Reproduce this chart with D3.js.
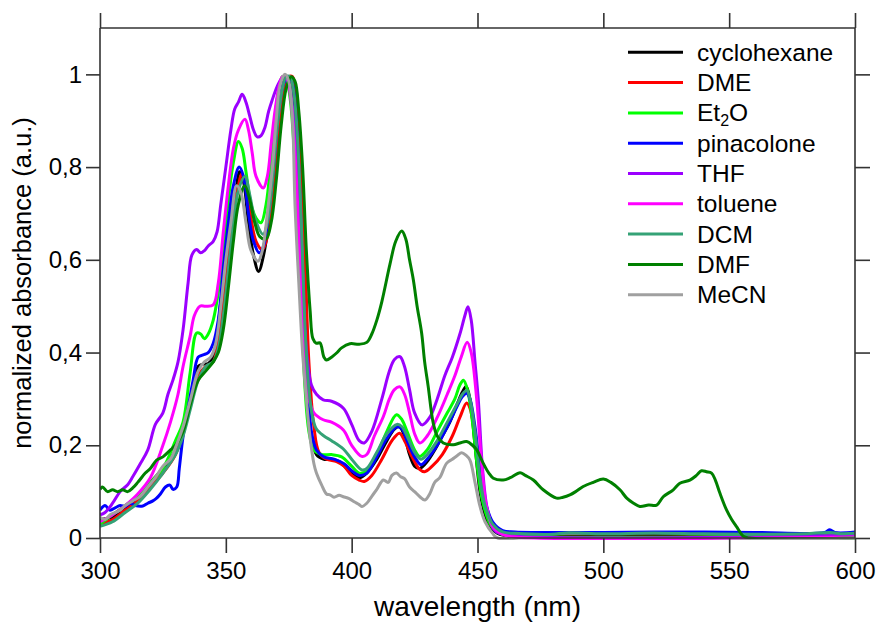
<!DOCTYPE html>
<html><head><meta charset="utf-8">
<script src="https://cdn.jsdelivr.net/npm/d3@7"></script>
<style>
html,body{margin:0;padding:0;background:#fff;}
svg text{font-family:"Liberation Sans",Arial,sans-serif;fill:#000;}
</style></head>
<body><svg id="chart" width="880" height="628"></svg>
<script>
// ---- data (wavelength nm, normalized absorbance) ----
const xTicks = [300, 350, 400, 450, 500, 550, 600];
const yTicks = [0, 0.2, 0.4, 0.6, 0.8, 1];
const seriesNames = ["cyclohexane","DME","Et2O","pinacolone","THF","toluene","DCM","DMF","MeCN"];
const seriesColors = ["#000000","#ff0000","#00ff00","#0000ff","#9b00ff","#ff00ff","#35a276","#008000","#a0a0a0"];

const cyclohexane = [[300,0.04],[305,0.045],[310,0.065],[315,0.085],[320,0.12],[325,0.15],[330,0.19],[333,0.24],[336,0.30],[339,0.37],[341,0.375],[343,0.376],[345,0.39],[348,0.51],[351,0.65],[354,0.75],[355.5,0.79],[357,0.77],[359,0.68],[361,0.61],[363,0.575],[365,0.61],[368,0.73],[370,0.88],[371.5,0.96],[373,0.995],[374.5,0.995],[376,0.96],[378,0.85],[379.5,0.72],[381,0.45],[382.5,0.30],[384,0.22],[386,0.18],[389,0.17],[392,0.17],[395,0.165],[398,0.15],[401,0.135],[403,0.13],[406,0.14],[410,0.17],[414,0.21],[417,0.235],[419,0.24],[421,0.22],[423,0.18],[425,0.155],[427,0.15],[430,0.165],[433,0.19],[436,0.22],[439,0.25],[442,0.29],[444,0.315],[445.5,0.327],[447,0.30],[449,0.2],[451,0.1],[453,0.05],[455,0.025],[458,0.01],[462,0.005],[500,0.005],[550,0.005],[600,0.005]];
const dme = [[300,0.03],[305,0.04],[310,0.06],[315,0.08],[320,0.11],[325,0.14],[330,0.18],[333,0.23],[336,0.29],[339,0.35],[342,0.37],[345,0.38],[347,0.43],[350,0.56],[353,0.70],[355,0.76],[356.3,0.785],[358,0.76],[360,0.69],[362,0.64],[364.5,0.622],[366.5,0.65],[369,0.76],[371,0.88],[373,0.96],[375,0.995],[376.5,0.995],[378,0.95],[380,0.80],[381.5,0.60],[383,0.38],[385,0.24],[387,0.185],[390,0.17],[394,0.165],[397,0.155],[400,0.135],[403,0.125],[405,0.122],[408,0.135],[412,0.17],[416,0.21],[419,0.226],[421,0.21],[424,0.175],[427,0.148],[429,0.143],[432,0.155],[436,0.18],[440,0.22],[443,0.26],[445.7,0.291],[447,0.28],[449,0.22],[451,0.13],[453,0.07],[456,0.03],[460,0.01],[465,0.005],[600,0.005]];
const et2o = [[300,0.03],[305,0.05],[310,0.07],[315,0.09],[320,0.12],[325,0.15],[330,0.21],[333,0.25],[335.8,0.356],[338.4,0.442],[340,0.44],[341.5,0.43],[343,0.44],[345,0.47],[347,0.53],[349,0.62],[351,0.73],[353,0.81],[355,0.855],[356.5,0.84],[358,0.79],[360,0.72],[362,0.69],[364,0.68],[366,0.72],[368,0.82],[370,0.93],[371.5,0.98],[372.5,0.995],[374,0.99],[375.5,0.95],[377,0.85],[378.5,0.70],[380,0.50],[381.5,0.32],[383,0.23],[385,0.19],[388,0.18],[392,0.18],[396,0.175],[400,0.155],[403,0.14],[406,0.145],[410,0.18],[414,0.23],[417.8,0.266],[420,0.255],[422,0.23],[425,0.19],[427,0.176],[430,0.19],[434,0.23],[438,0.27],[441,0.30],[443,0.33],[444.4,0.34],[446,0.32],[448,0.25],[450,0.15],[452,0.08],[455,0.03],[458,0.012],[462,0.006],[600,0.006]];
const pinacolone = [[300,0.06],[302,0.07],[304,0.06],[306,0.065],[308,0.07],[310,0.068],[312,0.075],[314,0.07],[317,0.069],[319,0.075],[321,0.08],[322.5,0.086],[324,0.095],[326,0.11],[327.8,0.114],[329,0.105],[330.5,0.11],[331.5,0.15],[333,0.219],[335,0.28],[337,0.34],[339,0.39],[341,0.395],[343,0.40],[345,0.42],[347,0.47],[349,0.58],[351,0.68],[353,0.76],[355.3,0.80],[357,0.78],[359,0.70],[361,0.64],[363.3,0.615],[365,0.63],[367,0.70],[369,0.80],[371,0.92],[373,0.98],[375,0.995],[376.5,0.98],[378,0.90],[379.5,0.73],[381,0.5],[382.5,0.33],[384,0.23],[386,0.19],[389,0.175],[393,0.17],[397,0.16],[400,0.145],[403,0.135],[406,0.14],[410,0.175],[414,0.215],[418,0.24],[420,0.235],[422,0.21],[425,0.175],[427.5,0.158],[430,0.17],[434,0.20],[438,0.24],[442,0.285],[444,0.305],[445.7,0.312],[447,0.30],[449,0.24],[451,0.15],[453,0.08],[456,0.035],[460,0.016],[465,0.013],[500,0.012],[530,0.013],[560,0.012],[588,0.012],[590,0.018],[592,0.012],[600,0.013]];
const thf = [[300,0.05],[302,0.055],[305,0.075],[308,0.10],[311,0.115],[313,0.132],[316,0.16],[319,0.19],[322,0.245],[325,0.27],[327,0.31],[329,0.341],[331,0.38],[333,0.449],[335,0.55],[336.5,0.61],[338.4,0.622],[340,0.615],[341.5,0.62],[343,0.63],[345,0.64],[346.5,0.66],[348,0.72],[350,0.80],[352,0.88],[353.5,0.925],[355,0.94],[356.5,0.957],[358,0.94],[359.5,0.91],[361,0.88],[362.5,0.865],[364,0.868],[365.5,0.885],[367,0.92],[368.5,0.946],[370.5,0.975],[372,0.99],[373.5,0.995],[375,0.98],[376.5,0.93],[378,0.82],[379.5,0.66],[381,0.48],[382.5,0.38],[384,0.33],[386,0.31],[388.7,0.298],[392,0.295],[396.7,0.28],[400,0.245],[403,0.21],[405,0.205],[408,0.23],[412,0.30],[415,0.36],[417,0.385],[419.2,0.391],[421,0.37],[423,0.32],[425,0.27],[428,0.244],[431,0.26],[434,0.30],[437,0.35],[440,0.39],[443,0.44],[445,0.48],[446.2,0.499],[447.5,0.47],[449,0.38],[450.3,0.30],[452,0.15],[454,0.06],[457,0.015],[462,0.006],[600,0.006]];
const toluene = [[300,0.035],[305,0.05],[310,0.07],[315,0.095],[320,0.13],[325,0.20],[328,0.25],[331,0.31],[333,0.37],[335.8,0.435],[337.5,0.48],[339.7,0.50],[342,0.50],[345,0.503],[347,0.55],[349,0.66],[351,0.76],[353,0.84],[355,0.88],[357.6,0.903],[359,0.88],[360.5,0.83],[362,0.78],[364.9,0.755],[366.5,0.78],[368,0.85],[369.5,0.92],[371,0.97],[372.5,0.995],[374,0.995],[375.5,0.96],[377,0.87],[378.5,0.72],[380,0.52],[381.5,0.37],[383,0.30],[385,0.27],[388.7,0.255],[392,0.25],[396.7,0.233],[400,0.20],[404,0.176],[406,0.18],[409,0.22],[412.6,0.262],[415,0.30],[417,0.32],[419.2,0.326],[421,0.31],[423,0.27],[425,0.225],[427.1,0.205],[430,0.22],[434,0.26],[438,0.31],[441,0.35],[443.5,0.39],[445.9,0.422],[447.5,0.40],[449.7,0.298],[451.5,0.17],[453.5,0.07],[456,0.025],[460,0.008],[465,0.002],[600,0.002]];
const dcm = [[300,0.025],[305,0.035],[310,0.055],[315,0.075],[320,0.105],[325,0.14],[330,0.18],[333,0.22],[336,0.28],[339,0.34],[342,0.37],[345,0.38],[347,0.41],[349,0.48],[351,0.58],[353,0.68],[355,0.75],[357.6,0.78],[359.5,0.74],[361.5,0.69],[364.8,0.655],[366.5,0.68],[368.5,0.77],[370.5,0.89],[372.5,0.97],[374,0.995],[375.5,0.995],[377,0.96],[378.5,0.86],[380,0.68],[381.5,0.45],[383,0.32],[384.5,0.26],[386,0.235],[389,0.22],[392,0.21],[396.7,0.192],[400,0.17],[404,0.147],[406,0.15],[410,0.185],[414,0.225],[418,0.245],[420,0.24],[422,0.22],[425,0.185],[427.5,0.17],[430,0.18],[434,0.21],[438,0.25],[442,0.29],[444,0.31],[445.7,0.318],[447,0.30],[449,0.23],[451,0.13],[453,0.07],[456,0.03],[460,0.013],[465,0.01],[480,0.008],[485,0.011],[500,0.009],[520,0.011],[540,0.009],[560,0.008],[580,0.009],[590,0.012],[595,0.009],[600,0.01]];
const dmf = [[300,0.105],[301,0.11],[303,0.1],[305,0.104],[307,0.10],[309,0.104],[311,0.10],[313,0.108],[315,0.12],[318,0.14],[320,0.15],[322.5,0.168],[325,0.175],[328,0.19],[330,0.2],[333,0.23],[336,0.29],[339,0.34],[342,0.36],[345,0.38],[347,0.40],[349,0.45],[351,0.54],[353,0.64],[355,0.72],[357.5,0.76],[359.5,0.73],[361.5,0.68],[363.5,0.65],[366,0.645],[368,0.68],[370,0.77],[372,0.89],[374,0.97],[376,0.995],[377.5,0.985],[379,0.92],[380.5,0.80],[382,0.62],[383.5,0.49],[384.6,0.43],[386,0.42],[387.4,0.421],[389,0.39],[390,0.384],[392,0.39],[394,0.399],[396,0.41],[399.3,0.419],[403,0.418],[406,0.422],[408,0.44],[410,0.47],[412,0.51],[415.2,0.59],[417.5,0.64],[419.9,0.662],[421.5,0.645],[423,0.60],[424.5,0.557],[426,0.50],[427.8,0.442],[429,0.38],[430.4,0.327],[432.4,0.248],[434,0.22],[436.4,0.205],[440.4,0.201],[443,0.205],[445.7,0.208],[448,0.20],[449.7,0.19],[452.3,0.161],[454.5,0.14],[456.3,0.129],[460.2,0.125],[463,0.13],[466.9,0.141],[469,0.135],[472.2,0.125],[476.1,0.104],[481.4,0.086],[484,0.088],[486.7,0.093],[489,0.10],[492,0.111],[496,0.12],[500,0.127],[503,0.12],[506.6,0.104],[509.3,0.086],[512,0.075],[514.5,0.068],[518,0.071],[521.2,0.071],[523.8,0.089],[527.8,0.104],[530.4,0.118],[534.4,0.125],[537,0.135],[539,0.145],[541,0.143],[543,0.14],[544.5,0.125],[546.3,0.097],[549,0.06],[551,0.04],[553,0.024],[555.6,0.004],[558,0.0],[600,0.0]];
const mecn = [[300,0.045],[302,0.04],[304,0.05],[306,0.055],[308,0.06],[310,0.07],[313,0.08],[316,0.09],[319,0.11],[322,0.13],[325,0.155],[328,0.17],[330,0.195],[333,0.24],[336,0.30],[339,0.36],[341.5,0.38],[344,0.39],[346,0.42],[348,0.50],[350,0.60],[352,0.68],[354.3,0.76],[356,0.745],[358,0.68],[360,0.62],[362.8,0.597],[364.5,0.62],[366.5,0.70],[368.5,0.80],[370,0.90],[371.5,0.975],[373.5,1.0],[375,0.985],[376.5,0.90],[377.5,0.716],[379,0.55],[380.5,0.40],[382,0.3],[383.4,0.22],[385,0.16],[386,0.14],[388,0.115],[390,0.095],[391.4,0.093],[393,0.088],[395,0.092],[396.7,0.089],[399,0.085],[401,0.078],[403,0.072],[404,0.068],[406,0.075],[408,0.09],[410,0.105],[412.6,0.125],[414.5,0.12],[416,0.135],[417.8,0.14],[419.5,0.132],[421,0.128],[423,0.11],[425,0.1],[427.1,0.089],[429.1,0.082],[431,0.095],[433,0.12],[435,0.13],[437.7,0.161],[440,0.17],[442,0.178],[443.7,0.184],[445.5,0.178],[447,0.168],[449,0.12],[451,0.068],[453,0.035],[456,0.01],[458,0.0],[600,0.0]];

const seriesData = [cyclohexane, dme, et2o, pinacolone, thf, toluene, dcm, dmf, mecn];

// ---- layout ----
const W = 880, H = 628;
const m = {left:100, right:25, top:28, bottom:90};
const iw = W - m.left - m.right, ih = H - m.top - m.bottom;
const svg = d3.select("#chart");
const x = d3.scaleLinear().domain([300,600]).range([m.left, m.left+iw]);
const y = d3.scaleLinear().domain([0,1.1]).range([m.top+ih, m.top]);
const fmt = v => v === 0 ? "0" : (v === 1 ? "1" : d3.format(".1f")(v).replace(".", ","));

svg.append("clipPath").attr("id","clip").append("rect")
  .attr("x", m.left).attr("y", m.top).attr("width", iw).attr("height", ih+2);

const line = d3.line().x(d=>x(d[0])).y(d=>y(d[1])).curve(d3.curveCatmullRom.alpha(0.5));
const g = svg.append("g").attr("clip-path","url(#clip)");
seriesData.forEach((s,i)=>{
  g.append("path").attr("d", line(s)).attr("fill","none")
   .attr("stroke", seriesColors[i]).attr("stroke-width",3).attr("stroke-linejoin","round");
});

// axes
const axColor = "#333";
const axB = svg.append("g").attr("transform",`translate(0,${m.top+ih})`)
  .call(d3.axisBottom(x).tickValues(xTicks).tickSize(15).tickSizeOuter(0).tickPadding(9).tickFormat(d3.format("d")));
const axT = svg.append("g").attr("transform",`translate(0,${m.top})`)
  .call(d3.axisTop(x).tickValues(xTicks).tickSize(15).tickSizeOuter(0).tickFormat(""));
const axL = svg.append("g").attr("transform",`translate(${m.left},0)`)
  .call(d3.axisLeft(y).tickValues(yTicks).tickSize(14).tickSizeOuter(0).tickPadding(4).tickFormat(fmt));
const axR = svg.append("g").attr("transform",`translate(${m.left+iw},0)`)
  .call(d3.axisRight(y).tickValues(yTicks).tickSize(15).tickSizeOuter(0).tickFormat(""));
[axB,axT,axL,axR].forEach(a=>{
  a.selectAll(".domain").attr("stroke",axColor).attr("stroke-width",1.6);
  a.selectAll(".tick line").attr("stroke",axColor).attr("stroke-width",1.6);
  a.selectAll("text").style("font-family","'Liberation Sans',Arial,sans-serif").style("font-size","24px").attr("fill","#000");
});
axB.selectAll(".domain").attr("d", `M${m.left},0H${m.left+iw}`);
axT.selectAll(".domain").attr("d", `M${m.left},0H${m.left+iw}`);
axL.selectAll(".domain").attr("d", `M0,${m.top}V${m.top+ih}`);
axR.selectAll(".domain").attr("d", `M0,${m.top}V${m.top+ih}`);

// axis titles
svg.append("text").attr("x", (m.left + m.left+iw)/2).attr("y", 616)
  .attr("text-anchor","middle").style("font-size","28px").text("wavelength (nm)");
svg.append("text").attr("transform",`translate(31,${m.top+ih/2}) rotate(-90)`)
  .attr("text-anchor","middle").style("font-size","25.5px").text("normalized absorbance (a.u.)");

// legend
const lg = svg.append("g");
seriesNames.forEach((n,i)=>{
  const yy = 52.3 + i*30.3;
  lg.append("line").attr("x1",628).attr("x2",683).attr("y1",yy).attr("y2",yy)
    .attr("stroke",seriesColors[i]).attr("stroke-width",3);
  const t = lg.append("text").attr("x",697).attr("y",yy+8.5).style("font-size","24.5px");
  if(n==="Et2O"){
    t.append("tspan").text("Et");
    t.append("tspan").attr("dy",5).style("font-size","16px").text("2");
    t.append("tspan").attr("dy",-5).text("O");
  } else t.text(n);
});
</script></body></html>
